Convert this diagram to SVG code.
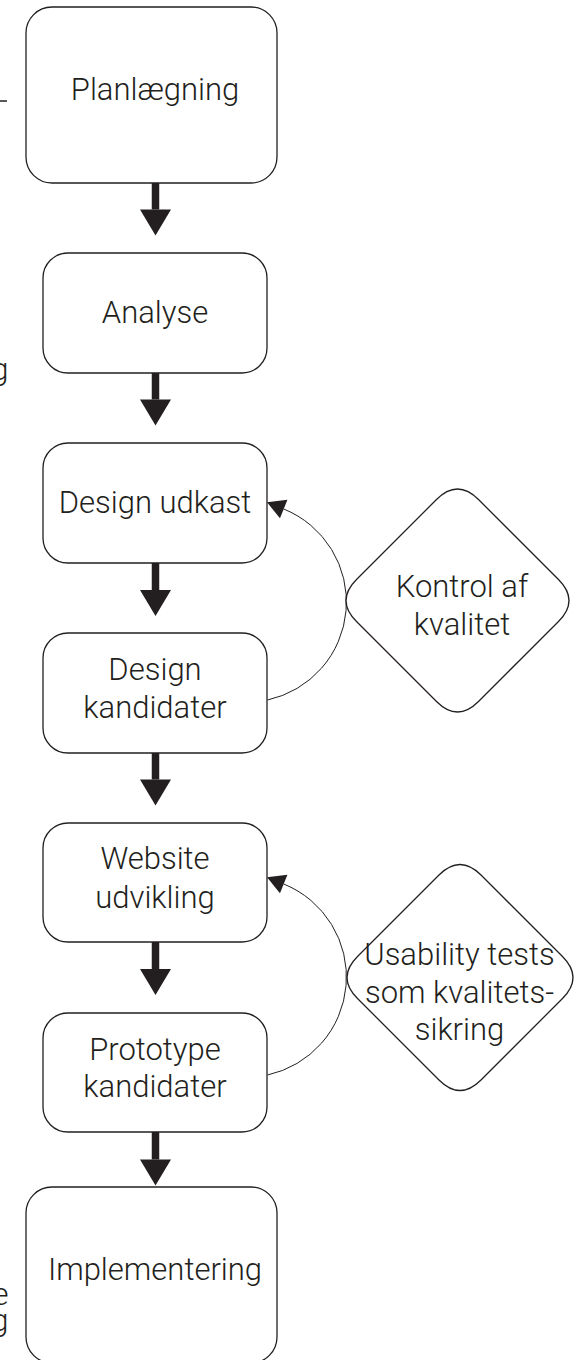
<svg xmlns="http://www.w3.org/2000/svg" width="578" height="1360" viewBox="0 0 578 1360">
  <style>
    .box { fill: #ffffff; stroke: #231f20; stroke-width: 1.3; }
    .dia { fill: #ffffff; stroke: #231f20; stroke-width: 1.3; }
    .lbl { font-family: Roboto, "Liberation Sans", Arial, sans-serif; font-weight: 300; font-size: 31px; fill: #231f20; text-anchor: middle; }
    .frag { font-family: Roboto, "Liberation Sans", Arial, sans-serif; font-weight: 300; font-size: 31px; fill: #231f20; text-anchor: end; }
    .flow { fill: none; stroke: #231f20; stroke-width: 7.5; marker-end: url(#bigHead); }
    .loop { fill: none; stroke: #231f20; stroke-width: 1; marker-end: url(#smallHead); }
  </style>
  <defs>
    <marker id="bigHead" markerUnits="userSpaceOnUse" markerWidth="27" markerHeight="31" refX="0" refY="15.5" orient="auto" overflow="visible">
      <path d="M0,0 L26,15.5 L0,31 Z" fill="#231f20"/>
    </marker>
    <marker id="smallHead" markerUnits="userSpaceOnUse" markerWidth="19" markerHeight="20" refX="0" refY="10" orient="auto" overflow="visible">
      <path d="M0,0 L18,10 L0,20 Z" fill="#231f20"/>
    </marker>
  </defs>

  <!-- clipped fragments of a neighbouring column -->
  <g id="left-fragments">
    <line x1="0" y1="101" x2="7" y2="101" stroke="#231f20" stroke-width="1.5"/>
    <text class="frag" x="8.5" y="380">g</text>
    <text class="frag" y="1305"><tspan x="8.5">e</tspan><tspan x="8.5" dy="26">g</tspan></text>
  </g>

  <!-- connectors -->
  <g id="connectors">
    <path class="flow" d="M155.5,183 V209.5"/>
    <path class="flow" d="M155.5,373 V399.5"/>
    <path class="flow" d="M155.5,563 V590"/>
    <path class="flow" d="M155.5,753 V779.5"/>
    <path class="flow" d="M155.5,942 V969"/>
    <path class="flow" d="M155.5,1132 V1159.5"/>
    <path class="loop" d="M267.5,700 A100.3,100.3 0 0 0 283.7,509"/>
    <path class="loop" d="M267.5,1075 A100.3,100.3 0 0 0 283.7,884"/>
  </g>

  <g id="planlaegning">
    <rect class="box" x="26" y="7" width="251" height="176" rx="26"/>
    <text class="lbl" x="155" y="100">Planlægning</text>
  </g>

  <g id="analyse">
    <rect class="box" x="43" y="253" width="224" height="120" rx="25"/>
    <text class="lbl" x="155" y="322.5">Analyse</text>
  </g>

  <g id="design-udkast">
    <rect class="box" x="43" y="443" width="224" height="120" rx="25"/>
    <text class="lbl" x="155" y="513">Design udkast</text>
  </g>

  <g id="design-kandidater">
    <rect class="box" x="43" y="633" width="224" height="120" rx="25"/>
    <text class="lbl" x="155" y="680">Design</text>
    <text class="lbl" x="155" y="718">kandidater</text>
  </g>

  <g id="website-udvikling">
    <rect class="box" x="43" y="823" width="224" height="119" rx="25"/>
    <text class="lbl" x="155" y="869">Website</text>
    <text class="lbl" x="155" y="907.5">udvikling</text>
  </g>

  <g id="prototype-kandidater">
    <rect class="box" x="43" y="1013" width="224" height="119" rx="25"/>
    <text class="lbl" x="155" y="1060">Prototype</text>
    <text class="lbl" x="155" y="1097">kandidater</text>
  </g>

  <g id="implementering">
    <rect class="box" x="26" y="1187" width="251" height="176" rx="26"/>
    <text class="lbl" x="155" y="1280">Implementering</text>
  </g>

  <g id="kontrol-af-kvalitet">
    <path class="dia" d="M436.5,499.5 Q457.5,478.5 478.5,499.5 L558.5,579.5 Q579.5,600.5 558.5,621.5 L478.5,701.5 Q457.5,722.5 436.5,701.5 L356.5,621.5 Q335.5,600.5 356.5,579.5 Z"/>
    <text class="lbl" x="462" y="597">Kontrol af</text>
    <text class="lbl" x="462" y="635">kvalitet</text>
  </g>

  <g id="usability-tests">
    <path class="dia" d="M439,875 Q460,854 481,875 L562.5,956.5 Q583.5,977.5 562.5,998.5 L481,1080 Q460,1101 439,1080 L357.5,998.5 Q336.5,977.5 357.5,956.5 Z"/>
    <text class="lbl" x="459.5" y="965">Usability tests</text>
    <text class="lbl" x="459.5" y="1003">som kvalitets-</text>
    <text class="lbl" x="459.5" y="1040">sikring</text>
  </g>
</svg>
